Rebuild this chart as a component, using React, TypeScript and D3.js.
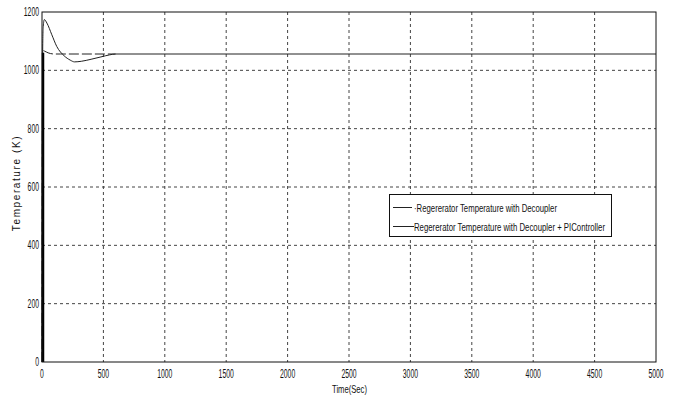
import React from "react";
import * as d3 from "d3";

// Time axis ticks (s) and temperature ticks (K)
const xTicks = [0, 500, 1000, 1500, 2000, 2500, 3000, 3500, 4000, 4500, 5000];
const yTicks = [0, 200, 400, 600, 800, 1000, 1200];

// Regenerator temperature with decoupler + PI controller (solid, overshooting)
const piTime = [0, 2, 5, 10, 19, 40, 80, 120, 180, 230, 265, 320, 400, 480, 550, 600, 5000];
const piTemp = [0, 600, 1050, 1150, 1174, 1162, 1122, 1082, 1050, 1035, 1029, 1031, 1038, 1046, 1053, 1056, 1056];

// Regenerator temperature with decoupler only (dashed)
const decTime = [0, 3, 8, 20, 50, 100, 150, 600];
const decTemp = [0, 800, 1068, 1066, 1060, 1056, 1056, 1056];

const legendLabels = [
  "·Regererator Temperature with Decoupler",
  "Regererator Temperature with Decoupler +  PIController",
];

const W = 674;
const H = 400;
const left = 42;
const right = 656;
const top = 12;
const bottom = 362;

const FONT = "'Liberation Sans Narrow', 'Arial Narrow', 'Liberation Sans', sans-serif";
// condensed numerals: width per digit
const DIGIT_W = 3.8;
// horizontal squeeze applied to legend text
const LEGEND_SX = 0.713;

export default function App() {
  const x = d3.scaleLinear().domain([0, 5000]).range([left, right]);
  const y = d3.scaleLinear().domain([0, 1200]).range([bottom, top]);

  const line = d3
    .line<[number, number]>()
    .x((d) => x(d[0]))
    .y((d) => y(d[1]))
    .curve(d3.curveMonotoneX);

  const piPath = line(piTime.map((t, i) => [t, piTemp[i]]) as [number, number][]) || "";
  const decPath = line(decTime.map((t, i) => [t, decTemp[i]]) as [number, number][]) || "";

  return (
    <svg
      width={W}
      height={H}
      style={{ position: "absolute", left: 0, top: 0, background: "#fff" }}
    >
      <rect x={0} y={0} width={W} height={H} fill="#fff" />

      {/* grid */}
      {xTicks.slice(1, -1).map((t) => (
        <line
          key={"gx" + t}
          x1={x(t)}
          x2={x(t)}
          y1={top}
          y2={bottom}
          stroke="#444"
          strokeWidth={1}
          strokeDasharray="3,3"
        />
      ))}
      {yTicks.slice(1, -1).map((v) => (
        <line
          key={"gy" + v}
          x1={left}
          x2={right}
          y1={y(v)}
          y2={y(v)}
          stroke="#444"
          strokeWidth={1}
          strokeDasharray="3,3"
        />
      ))}

      {/* curves */}
      <path d={decPath} fill="none" stroke="#222" strokeWidth={1} strokeDasharray="10,3" />
      <path d={piPath} fill="none" stroke="#222" strokeWidth={1} />
      <line x1={x(0) + 1} x2={x(0) + 1} y1={y(0)} y2={y(1060)} stroke="#000" strokeWidth={2.5} />

      {/* axes box */}
      <rect
        x={left}
        y={top}
        width={right - left}
        height={bottom - top}
        fill="none"
        stroke="#111"
        strokeWidth={1}
      />

      {/* tick labels */}
      {yTicks.map((v) => (
        <text
          key={"ty" + v}
          x={left - 3 - String(v).length * DIGIT_W}
          y={y(v) + 4}
          fontFamily={FONT}
          fontSize={12}
          textLength={String(v).length * DIGIT_W}
          lengthAdjust="spacingAndGlyphs"
          fill="#111"
        >
          {v}
        </text>
      ))}
      {xTicks.map((t) => (
        <text
          key={"tx" + t}
          x={x(t) - (String(t).length * DIGIT_W) / 2}
          y={bottom + 16}
          fontFamily={FONT}
          fontSize={12}
          textLength={String(t).length * DIGIT_W}
          lengthAdjust="spacingAndGlyphs"
          fill="#111"
        >
          {t}
        </text>
      ))}

      {/* axis titles */}
      <text
        x={(left + right) / 2 - 17}
        y={393}
        fontFamily={FONT}
        fontSize={11.5}
        textLength={35}
        lengthAdjust="spacingAndGlyphs"
        fill="#111"
      >
        Time(Sec)
      </text>
      <text
        transform={`translate(20, ${(top + bottom) / 2 - 4}) rotate(-90)`}
        textAnchor="middle"
        fontFamily={FONT}
        fontSize={10}
        letterSpacing={1.6}
        fill="#111"
      >
        Temperature (K)
      </text>

      {/* legend */}
      <rect x={389.5} y={194.5} width={222} height={42} fill="#fff" stroke="#111" strokeWidth={1} />
      <line x1={393} x2={412} y1={207.5} y2={207.5} stroke="#222" strokeWidth={1} />
      <line x1={393} x2={414} y1={226.5} y2={226.5} stroke="#222" strokeWidth={1} />
      <g transform={`translate(414, 211.5) scale(${LEGEND_SX}, 1)`}>
        <text
          x={0}
          y={0}
          fontFamily={FONT}
          fontSize={11}
          textLength={143 / LEGEND_SX}
          lengthAdjust="spacingAndGlyphs"
          fill="#111"
        >
          {legendLabels[0]}
        </text>
      </g>
      <g transform={`translate(414, 230.5) scale(${LEGEND_SX}, 1)`}>
        <text
          x={0}
          y={0}
          fontFamily={FONT}
          fontSize={11}
          textLength={191 / LEGEND_SX}
          lengthAdjust="spacingAndGlyphs"
          fill="#111"
        >
          {legendLabels[1]}
        </text>
      </g>
    </svg>
  );
}
